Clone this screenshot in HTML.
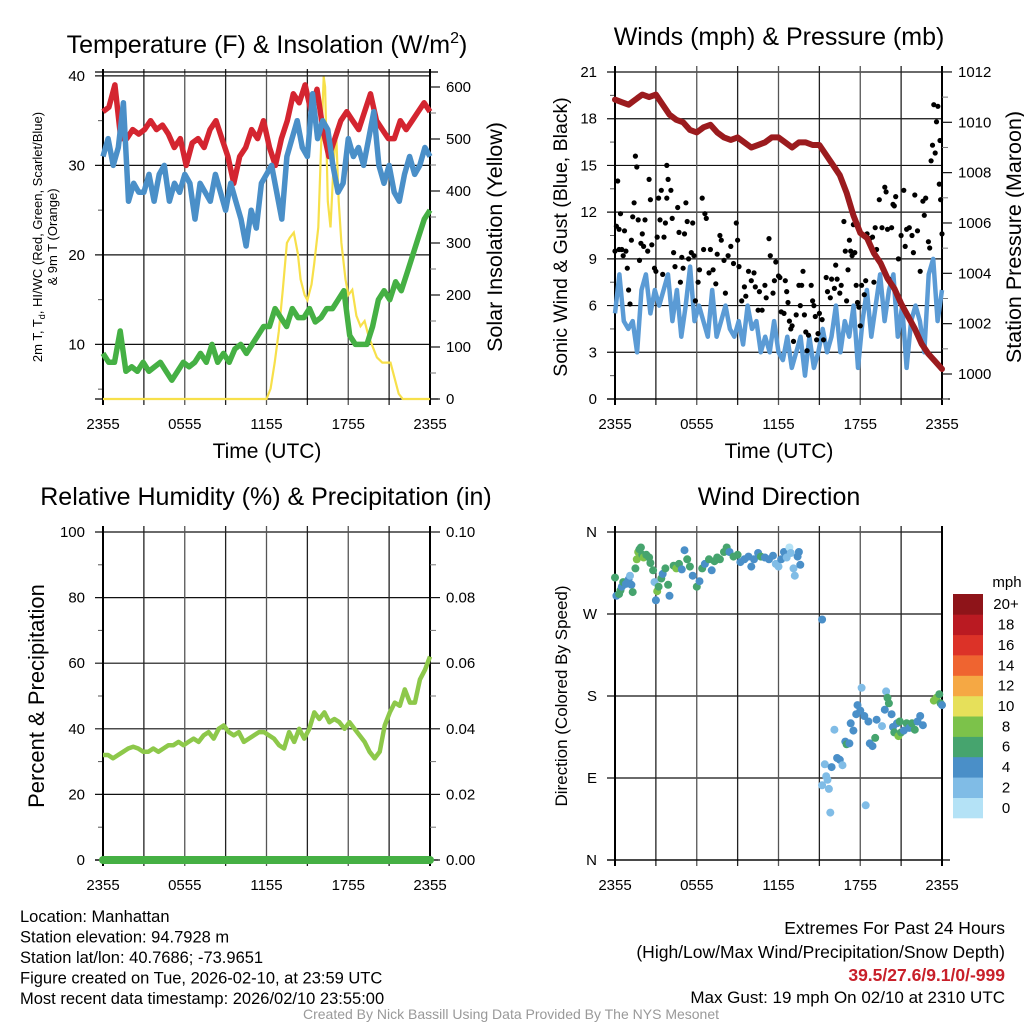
<!DOCTYPE html>
<html><head><meta charset="utf-8">
<style>
html,body{margin:0;padding:0;background:#fff;}
svg{display:block;font-family:"Liberation Sans",Arial,sans-serif;}
</style></head>
<body>
<svg id="fig" width="1024" height="1024" viewBox="0 0 1024 1024" xmlns="http://www.w3.org/2000/svg"></svg>
<script>
// ---------- data (times evenly spaced over 24 h unless given) ----------
const timeLabels = ["2355","0555","1155","1755","2355"];
const tempRed = [36,36.5,39,33,33,34,33.5,34,35,34,34.5,33.5,32,33,30,32.5,33,32,34,35,33,31,28,31,32,34,33,35,32,30,33,35,38,37,39,36,38.5,34,31,33,35,36,35,34,36,38,35,34,33,33,35,34,35,36,37,36];
const tempBlue = [31,33,30,32,37,26,28,27,27,29,26,29,30,26,28,27,29,28,24,28,27,26,29,27,25,28,26,24,21,25,23,28,29,30,27,24,31,33,35,32,31,38,33,35,34,30,27,28,33,31,32,30,33,36,30,28,30,27,26,29,31,29,30,32,31];
const dewGreen = [9,8,8,11.5,7,7.5,7,8,7,7.5,8,7,6,7,8,7.5,8,9,8,10,8,9,8,9.5,10,9,10,11,12,12,14,13,12,14,13,13,14,12.5,13,14,14,15,16,11,10,10,10,12,15,16,15,17,16,18,20,22,24,25];
const solarT = [0,12,12.3,12.6,12.9,13.2,13.5,13.7,14,14.3,14.5,14.8,15,15.3,15.5,15.8,16,16.2,16.3,16.5,16.7,16.9,17.1,17.3,17.5,17.8,18,18.3,18.6,18.9,19.2,19.5,19.8,20.1,20.5,20.8,21.1,21.4,21.7,22,24];
const solarV = [0,0,20,70,130,210,300,310,320,280,230,200,190,220,260,330,480,620,600,380,330,440,520,380,300,230,200,210,160,140,150,120,100,80,70,70,70,40,10,0,0];
const windSpeed = [5.5,8,5,4.5,5,3,7,8,5.5,7,6,7,8,5,7,4,6,8.5,5,6,5,4,7,4,5,6,4.5,4,5,3.5,6,4.5,5,3,4,3,5,3,2.5,4,2,3,4,1.5,4,2,3,4.5,3,4,6,3,5,4,6,2,5,7,4,6,8,5,7,8,4,6,2,5,6,5,3,8,9,5,7];
const pressure = [1010.9,1010.8,1010.7,1010.9,1011.1,1011.0,1011.1,1010.7,1010.3,1010.1,1010.0,1009.7,1009.6,1009.8,1009.9,1009.6,1009.4,1009.3,1009.4,1009.2,1009.0,1009.1,1009.2,1009.4,1009.4,1009.2,1009.0,1009.2,1009.2,1009.1,1009.1,1008.7,1008.3,1007.9,1007.2,1006.3,1005.6,1005.4,1004.8,1004.4,1003.8,1003.4,1002.8,1002.3,1001.8,1001.2,1000.8,1000.5,1000.2];
const gusts = [[0,9.5],[0.1,11.1],[0.2,14],[0.3,10.9],[0.3,9.6],[0.4,11.9],[0.5,9.6],[0.6,9.2],[0.7,10.8],[0.8,9.5],[0.9,8.4],[1.0,7],[1.1,6.1],[1.2,10.2],[1.3,11.7],[1.4,12.6],[1.5,15.6],[1.6,14.9],[1.7,11.5],[1.8,8.9],[1.9,10],[2.0,10.6],[2.1,9.8],[2.2,11.5],[2.4,9.5],[2.5,14.1],[2.6,12.8],[2.7,9.9],[2.9,8.4],[3.0,8.2],[3.1,10.4],[3.2,12.9],[3.3,11.5],[3.4,13.4],[3.5,8],[3.6,10.4],[3.7,11.3],[3.8,12.9],[3.8,15],[3.9,14.1],[4.1,13.4],[4.2,11.6],[4.3,9.4],[4.4,8.5],[4.6,12.3],[4.7,10.7],[4.8,7.5],[4.9,9.1],[5.0,8.4],[5.1,10.6],[5.2,12.6],[5.3,11.4],[5.4,9],[5.6,9.4],[5.7,11.3],[5.8,9.2],[5.9,6.3],[6.1,7.5],[6.2,8.3],[6.4,12.9],[6.5,9.6],[6.6,11.9],[6.7,11.6],[6.9,8.1],[7.0,9.6],[7.2,8.3],[7.4,7.4],[7.5,9.3],[7.7,10.5],[7.8,10.2],[8.0,8.9],[8.1,6.8],[8.3,9.2],[8.5,9.8],[8.7,8.7],[8.9,11.3],[9.0,10.2],[9.1,8.5],[9.3,6.3],[9.5,7.2],[9.6,6.6],[9.8,8.2],[10.0,7.6],[10.2,8.1],[10.3,7.2],[10.5,5.7],[10.6,6.9],[10.8,5.7],[11.0,7.3],[11.1,6.5],[11.3,10.3],[11.4,9.2],[11.6,6.8],[11.7,7.6],[11.8,8.8],[12.0,7.9],[12.1,7.8],[12.2,5.6],[12.4,5.5],[12.5,7.6],[12.6,6.9],[12.7,6.2],[12.8,5],[12.9,4.5],[13.0,4.7],[13.1,3.7],[13.3,5.4],[13.5,7.3],[13.6,6],[13.7,7.3],[13.8,8.2],[13.9,5.4],[14.0,4.3],[14.1,3.1],[14.2,4.1],[14.4,7.3],[14.5,6.3],[14.6,6],[14.7,5.3],[14.8,3.8],[14.9,4.2],[15.0,5.5],[15.2,5.1],[15.3,3.8],[15.5,7.8],[15.6,6.9],[15.8,6.5],[15.9,7.7],[16.1,7.1],[16.2,8.6],[16.3,7.7],[16.5,6.8],[16.6,7.3],[16.8,11.4],[16.9,9.5],[17.0,6.3],[17.1,8.3],[17.2,10.2],[17.3,9.5],[17.4,9.2],[17.5,11.2],[17.6,9.4],[17.7,7.3],[17.8,6.2],[17.9,5.9],[18.0,4.7],[18.1,7.3],[18.3,6.7],[18.4,7.6],[18.5,10.6],[18.7,10.3],[18.9,10.4],[19.0,7.5],[19.1,11],[19.2,9.6],[19.4,12.8],[19.6,11],[19.8,13.6],[19.9,13.3],[20.0,10.9],[20.1,7.7],[20.3,11],[20.4,12.5],[20.5,12.4],[20.6,13],[20.8,9],[21.0,10.5],[21.2,13.4],[21.3,9.8],[21.4,10.9],[21.6,11],[21.8,10.5],[21.9,9.4],[22.0,13.1],[22.2,10.8],[22.4,8.2],[22.6,12.7],[22.7,11.8],[22.8,12.9],[23.0,10.1],[23.1,9.7],[23.2,15.3],[23.3,16.3],[23.4,18.9],[23.5,15.8],[23.6,17.8],[23.7,18.8],[23.8,13.8],[23.85,16.6],[23.9,12.8],[24.0,10.6]];
const relHum = [32,32,31,32,33,34,34.5,34,33,33,34,33,34,35,35,36,35,36,37,36,38,39,37,40,41,39,38,39,36,37,38,39,39,38,37,35,34,39,36,40,37,40,45,43,45,42,43,42,40,42,40,38,36,33,31,33,41,45,48,47,52,48,48,55,58,62];
const precip = [0,0,0,0,0,0,0,0,0,0,0,0,0];
const windDir = [[0,310,6],[0.1,290,4],[0.3,292,6],[0.4,296,7],[0.5,300,4],[0.6,305,6],[0.8,303,4],[1.0,308,4],[1.1,312,3],[1.2,302,4],[1.3,294,6],[1.5,320,6],[1.6,330,8],[1.7,338,8],[1.8,341,6],[1.9,343,6],[2.0,335,6],[2.1,332,8],[2.3,335,6],[2.5,332,6],[2.6,326,6],[2.8,318,6],[2.9,305,2],[3.0,285,4],[3.1,295,8],[3.2,300,6],[3.4,309,6],[3.5,314,4],[3.7,320,6],[3.9,302,6],[4.0,290,4],[4.3,323,6],[4.5,320,8],[4.7,325,6],[4.9,319,4],[5.1,340,4],[5.3,330,6],[5.5,322,6],[5.7,312,4],[6.0,300,6],[6.2,306,4],[6.4,320,6],[6.6,325,4],[6.9,330,6],[7.1,318,4],[7.3,328,6],[7.5,332,6],[7.7,330,6],[8.0,338,6],[8.2,343,6],[8.4,338,4],[8.7,333,6],[9.0,335,6],[9.2,327,4],[9.5,330,4],[9.8,333,4],[10.0,322,4],[10.2,330,4],[10.5,337,4],[10.7,333,6],[11.0,332,4],[11.3,330,4],[11.6,334,4],[11.8,325,2],[12.0,322,2],[12.2,330,4],[12.4,338,4],[12.6,332,2],[12.8,343,0],[12.9,337,2],[13.1,320,2],[13.2,312,2],[13.4,333,4],[13.5,338,4],[13.6,324,4],[15.2,264,4],[15.2,82,2],[15.4,105,2],[15.5,92,2],[15.6,88,2],[15.7,78,2],[15.8,52,2],[15.9,102,4],[16.1,143,2],[16.3,112,4],[16.5,110,4],[16.7,104,2],[16.9,130,4],[17.0,127,6],[17.2,128,4],[17.3,150,4],[17.5,142,4],[17.7,160,4],[17.8,170,4],[18.0,164,4],[18.1,189,2],[18.3,158,4],[18.4,60,2],[18.6,152,4],[18.7,128,4],[18.9,125,4],[19.1,134,6],[19.2,154,4],[19.6,147,2],[19.8,165,4],[19.9,185,2],[20.0,178,6],[20.1,172,6],[20.3,160,4],[20.4,146,4],[20.5,140,6],[20.7,150,4],[20.8,136,8],[20.9,152,6],[21.0,140,6],[21.2,142,4],[21.4,150,6],[21.6,145,4],[21.8,150,6],[22.0,143,6],[22.2,152,4],[22.4,158,4],[22.6,148,4],[23.4,175,8],[23.6,178,8],[23.8,182,6],[23.9,172,6],[24.0,170,4]];
const speedBins = ["0","2","4","6","8","10","12","14","16","18","20+"];
const speedColors = ["#b4e2f6","#80bce6","#4a8fc8","#46a46e","#7cc24a","#e6e05a","#f5a844","#ef6430","#dc3228","#ba1a22","#8e1419"];

// ---------- helpers ----------
const NS = "http://www.w3.org/2000/svg";
const svg = document.getElementById("fig");
function mk(tag, attrs, name, parent) {
  const e = document.createElementNS(NS, tag);
  for (const k in attrs) e.setAttribute(k, attrs[k]);
  
  
  (parent || svg).appendChild(e);
  return e;
}
function txt(x, y, s, size, anchor, name, extra) {
  const a = Object.assign({x: x, y: y, "font-size": size, "text-anchor": anchor || "middle", fill: "#000"}, extra || {});
  const e = mk("text", a, name);
  e.textContent = s;
  return e;
}
function evenT(n, i) { return i * 24 / (n - 1); }
function linePath(xs, ys) { return xs.map((x, i) => (i ? "L" : "M") + x.toFixed(1) + "," + ys[i].toFixed(1)).join(""); }

function frame(p, yTicks, yFn, yLabels, name, minorYs, rTicks, rFn, rLabels, rMinor) {
  const g = mk("g", {}, name + "-axes");
  yTicks.forEach((v, i) => {
    const y = yFn(v);
    mk("line", {x1: p.x0 - 8, x2: p.x1, y1: y, y2: y, stroke: "#111", "stroke-width": 1.2}, name + "-hgrid", g);
    txt(p.x0 - 18, y + 5, yLabels[i], 15, "end", name + "-y-tick-label");
  });
  minorYs.forEach(v => { const y = yFn(v); mk("line", {x1: p.x0 - 5, x2: p.x0, y1: y, y2: y, stroke: "#555", "stroke-width": 1}, name + "-y-minor-tick", g); });
  for (let k = 0; k <= 8; k++) {
    const x = p.x0 + k * 3 * (p.x1 - p.x0) / 24;
    mk("line", {x1: x, x2: x, y1: p.y0 - 6, y2: p.y1 + 6, stroke: k % 2 ? "#222" : "#555", "stroke-width": 1.3}, name + "-vgrid", g);
  }
  timeLabels.forEach((s, i) => txt(p.x0 + i * (p.x1 - p.x0) / 4, p.y1 + 30, s, 15, "middle", name + "-x-tick-label"));
  mk("line", {x1: p.x0, x2: p.x0, y1: p.y0 - 6, y2: p.y1 + 6, stroke: "#000", "stroke-width": 2}, name + "-left-axis", g);
  mk("line", {x1: p.x1, x2: p.x1, y1: p.y0 - 6, y2: p.y1 + 6, stroke: "#000", "stroke-width": 2}, name + "-right-axis", g);
  mk("line", {x1: p.x0 - 8, x2: p.x1 + 8, y1: p.y1, y2: p.y1, stroke: "#000", "stroke-width": 1.3}, name + "-bottom-axis", g);
  if (rTicks) {
    rTicks.forEach((v, i) => {
      const y = rFn(v);
      mk("line", {x1: p.x1, x2: p.x1 + 10, y1: y, y2: y, stroke: "#111", "stroke-width": 1.2}, name + "-r-tick", g);
      txt(p.x1 + 16, y + 5, rLabels[i], 15, "start", name + "-right-tick-label");
    });
    rMinor.forEach(v => { const y = rFn(v); mk("line", {x1: p.x1, x2: p.x1 + 6, y1: y, y2: y, stroke: "#777", "stroke-width": 1}, name + "-r-minor-tick", g); });
  }
}

// ================= Panel 1: Temperature =================
const P1 = {x0: 103, x1: 430, y0: 75, y1: 399};
const x1 = t => P1.x0 + t / 24 * (P1.x1 - P1.x0);
const yT = v => 399 - (v - 3.9) * 8.95;
const yS = w => 399 - w * 0.52;
frame(P1, [10,20,30,40], yT, ["10","20","30","40"], "temp-panel", [5,15,25,35],
  [0,100,200,300,400,500,600], yS, ["0","100","200","300","400","500","600"], [50,150,250,350,450,550]);
mk("line", {x1: 95, x2: 438, y1: 72, y2: 72, stroke: "#000", "stroke-width": 1.2}, "temp-panel-top-border");
mk("path", {d: linePath(solarT.map(x1), solarV.map(yS)), fill: "none", stroke: "#f7e04a", "stroke-width": 2.2}, "solar-insolation-line");
mk("path", {d: linePath(dewGreen.map((v, i) => x1(evenT(dewGreen.length, i))), dewGreen.map(yT)), fill: "none", stroke: "#45b044", "stroke-width": 5.5, "stroke-linejoin": "round"}, "dewpoint-line");
mk("path", {d: linePath(tempRed.map((v, i) => x1(evenT(tempRed.length, i))), tempRed.map(yT)), fill: "none", stroke: "#d42530", "stroke-width": 5.5, "stroke-linejoin": "round"}, "temperature-line");
mk("path", {d: linePath(tempBlue.map((v, i) => x1(evenT(tempBlue.length, i))), tempBlue.map(yT)), fill: "none", stroke: "#4a8fc8", "stroke-width": 5.5, "stroke-linejoin": "round"}, "windchill-line");
const t1 = mk("text", {x: 267, y: 53, "font-size": 25, "text-anchor": "middle"}, "temp-panel-title");
t1.innerHTML = 'Temperature (F) &amp; Insolation (W/m<tspan font-size="16" dy="-10">2</tspan><tspan dy="10">)</tspan>';
txt(267, 458, "Time (UTC)", 21, "middle", "temp-x-axis-title");
const yl1 = mk("text", {x: 0, y: 0, "font-size": 13, "text-anchor": "middle", transform: "translate(42,237) rotate(-90)"}, "temp-y-axis-title");
yl1.innerHTML = '2m T, T<tspan font-size="9" dy="3">d</tspan><tspan dy="-3">, HI/WC (Red, Green, Scarlet/Blue)</tspan>';
txt(0, 0, "& 9m T (Orange)", 13, "middle", "temp-y-axis-title-line2", {transform: "translate(57,237) rotate(-90)"});
txt(0, 0, "Solar Insolation (Yellow)", 21.5, "middle", "solar-y-axis-title", {transform: "translate(502,237) rotate(-90)"});

// ================= Panel 2: Winds =================
const P2 = {x0: 615, x1: 942, y0: 72, y1: 399};
const x2 = t => P2.x0 + t / 24 * (P2.x1 - P2.x0);
const yW = v => 399 - v * 15.571;
const yP = p => 374 - (p - 1000) * 25.17;
frame(P2, [0,3,6,9,12,15,18,21], yW, ["0","3","6","9","12","15","18","21"], "wind-panel", [1.5,4.5,7.5,10.5,13.5,16.5,19.5],
  [1000,1002,1004,1006,1008,1010,1012], yP, ["1000","1002","1004","1006","1008","1010","1012"], [999,1001,1003,1005,1007,1009,1011]);
mk("path", {d: linePath(windSpeed.map((v, i) => x2(evenT(windSpeed.length, i))), windSpeed.map(yW)), fill: "none", stroke: "#5b9bd5", "stroke-width": 4.5, "stroke-linejoin": "round"}, "sonic-wind-line");
const gg = mk("g", {}, "gust-points");
gusts.forEach(d => {
  mk("circle", {cx: x2(d[0]).toFixed(1), cy: yW(d[1]).toFixed(1), r: 2.6, fill: "#000"}, "gust-point", gg);
});
mk("path", {d: linePath(pressure.map((v, i) => x2(evenT(pressure.length, i))), pressure.map(yP)), fill: "none", stroke: "#9b1b1e", "stroke-width": 6, "stroke-linejoin": "round", "stroke-linecap": "round"}, "pressure-line");
txt(779, 45, "Winds (mph) & Pressure (mb)", 25, "middle", "wind-panel-title");
txt(779, 458, "Time (UTC)", 21, "middle", "wind-x-axis-title");
txt(0, 0, "Sonic Wind & Gust (Blue, Black)", 19.5, "middle", "wind-y-axis-title", {transform: "translate(567,237) rotate(-90)"});
txt(0, 0, "Station Pressure (Maroon)", 21.5, "middle", "pressure-y-axis-title", {transform: "translate(1021,237) rotate(-90)"});

// ================= Panel 3: RH =================
const P3 = {x0: 103, x1: 430, y0: 532, y1: 860};
const x3 = t => P3.x0 + t / 24 * (P3.x1 - P3.x0);
const yRH = v => 860 - v * 3.28;
const yPr = v => 860 - v * 3280;
frame(P3, [0,20,40,60,80,100], yRH, ["0","20","40","60","80","100"], "rh-panel", [10,30,50,70,90],
  [0,0.02,0.04,0.06,0.08,0.10], yPr, ["0.00","0.02","0.04","0.06","0.08","0.10"], [0.01,0.03,0.05,0.07,0.09]);
mk("path", {d: linePath(relHum.map((v, i) => x3(evenT(relHum.length, i))), relHum.map(yRH)), fill: "none", stroke: "#8dc84a", "stroke-width": 4.5, "stroke-linejoin": "round"}, "relative-humidity-line");
mk("path", {d: linePath(precip.map((v, i) => x3(evenT(precip.length, i))), precip.map(yPr)), fill: "none", stroke: "#45b044", "stroke-width": 8, "stroke-linecap": "round"}, "precipitation-line");
txt(266, 505, "Relative Humidity (%) & Precipitation (in)", 25, "middle", "rh-panel-title");
txt(0, 0, "Percent & Precipitation", 22, "middle", "rh-y-axis-title", {transform: "translate(44,696) rotate(-90)"});

// ================= Panel 4: Wind direction =================
const P4 = {x0: 615, x1: 942, y0: 532, y1: 860};
const x4 = t => P4.x0 + t / 24 * (P4.x1 - P4.x0);
const yD = d => 860 - d / 360 * 328;
frame(P4, [0,90,180,270,360], yD, ["N","E","S","W","N"], "direction-panel", [], null);
const dg = mk("g", {}, "wind-direction-points");
windDir.forEach(d => {
  const bin = Math.min(10, Math.floor(d[2] / 2));
  mk("circle", {cx: x4(d[0]).toFixed(1), cy: yD(d[1]).toFixed(1), r: 4, fill: speedColors[bin]}, "wind-direction-point", dg);
});
txt(779, 505, "Wind Direction", 25, "middle", "direction-panel-title");
txt(0, 0, "Direction (Colored By Speed)", 17, "middle", "direction-y-axis-title", {transform: "translate(567,696) rotate(-90)"});
const lg = mk("g", {}, "speed-legend");
txt(1007, 587, "mph", 15, "middle", "speed-legend-title");
const bh = (818 - 594) / 11;
speedBins.forEach((s, i) => {
  const y = 818 - (i + 1) * bh;
  mk("rect", {x: 953, y: y.toFixed(1), width: 30, height: (bh + 0.3).toFixed(1), fill: speedColors[i]}, "speed-legend-swatch", lg);
  txt(1006, y + bh / 2 + 5, s, 15, "middle", "speed-legend-label");
});

// ================= Footer text =================
const info = ["Location: Manhattan","Station elevation: 94.7928 m","Station lat/lon: 40.7686; -73.9651","Figure created on Tue, 2026-02-10, at 23:59 UTC","Most recent data timestamp: 2026/02/10 23:55:00"];
info.forEach((s, i) => txt(20, 922 + i * 20.5, s, 16.5, "start", "station-info-line"));
txt(1005, 934, "Extremes For Past 24 Hours", 17.5, "end", "extremes-heading");
txt(1005, 958, "(High/Low/Max Wind/Precipitation/Snow Depth)", 17.5, "end", "extremes-subheading");
txt(1005, 981, "39.5/27.6/9.1/0/-999", 17.5, "end", "extremes-values", {fill: "#c8202a", "font-weight": "bold"});
txt(1005, 1003, "Max Gust: 19 mph On 02/10 at 2310 UTC", 17, "end", "max-gust-text");
txt(511, 1019, "Created By Nick Bassill Using Data Provided By The NYS Mesonet", 14, "middle", "credit-text", {fill: "#999"});
</script>
</body></html>
